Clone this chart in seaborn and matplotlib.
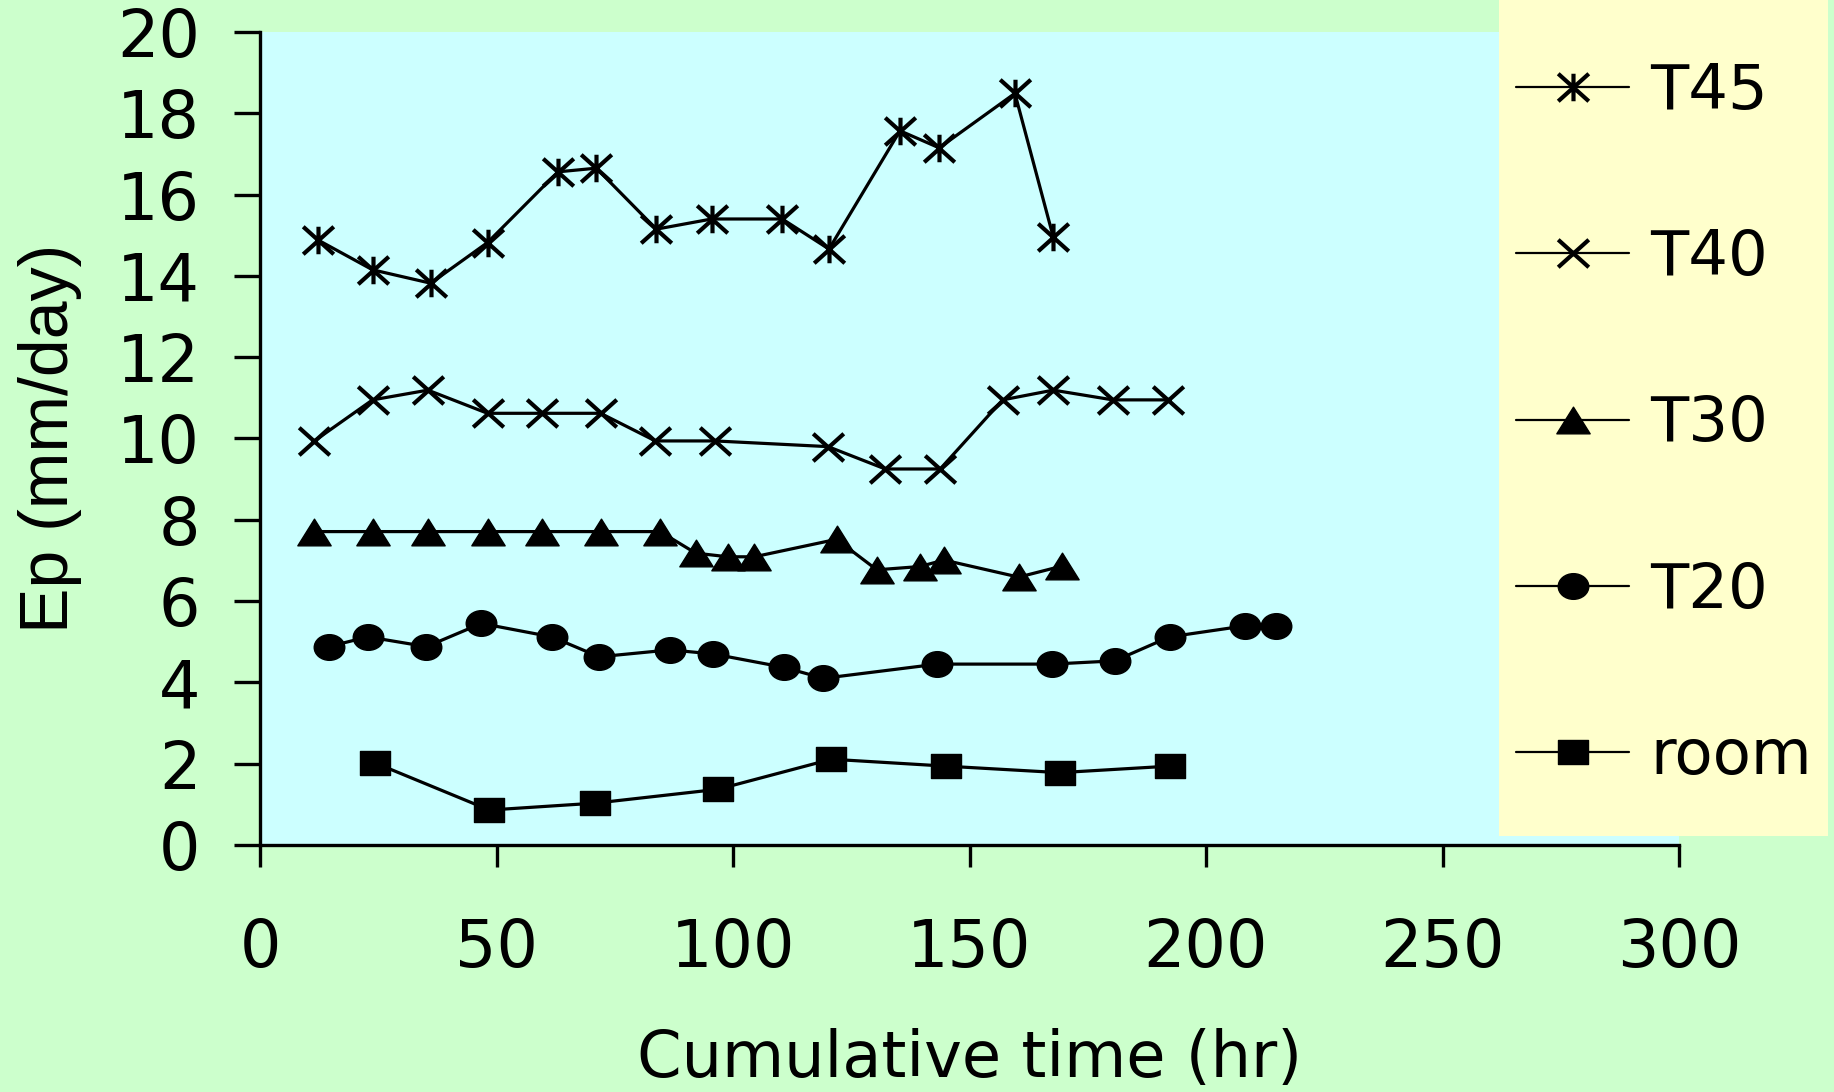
import numpy as np
import pandas as pd
import matplotlib
matplotlib.use("Agg")
import matplotlib.pyplot as plt
import seaborn as sns
from matplotlib.path import Path
from matplotlib.patches import Rectangle
from matplotlib.lines import Line2D

# values (x: cumulative time in hr, y: Ep in mm/day)
t45_x = [12.3, 23.8, 36.1, 48.1, 63.0, 71.1, 83.8, 95.5, 110.4, 120.3, 135.3, 143.6, 159.6, 167.7]
t45_y = [14.88, 14.15, 13.82, 14.82, 16.56, 16.65, 15.15, 15.40, 15.40, 14.66, 17.57, 17.15, 18.49, 14.96]

t40_x = [11.5, 23.8, 35.5, 48.1, 59.6, 72.0, 83.6, 96.2, 120.1, 132.2, 143.8, 157.0, 167.7, 180.3, 191.9]
t40_y = [9.94, 10.95, 11.19, 10.62, 10.62, 10.62, 9.94, 9.94, 9.80, 9.25, 9.25, 10.95, 11.19, 10.95, 10.95]

t30_x = [11.5, 23.8, 35.6, 48.1, 59.7, 72.1, 84.6, 92.1, 98.9, 104.5, 121.9, 130.4, 139.5, 144.6, 160.4, 169.5]
t30_y = [7.71, 7.71, 7.71, 7.71, 7.71, 7.71, 7.71, 7.18, 7.09, 7.09, 7.52, 6.77, 6.85, 7.01, 6.59, 6.86]

t20_x = [14.5, 22.8, 35.2, 46.8, 61.7, 71.7, 86.7, 95.8, 110.8, 119.1, 143.2, 167.4, 180.7, 192.3, 208.2, 214.7]
t20_y = [4.88, 5.12, 4.88, 5.45, 5.12, 4.63, 4.80, 4.70, 4.37, 4.10, 4.45, 4.45, 4.53, 5.12, 5.39, 5.39]

room_x = [24.3, 48.5, 70.9, 96.8, 120.8, 145.0, 169.1, 192.3]
room_y = [2.02, 0.86, 1.03, 1.37, 2.11, 1.94, 1.78, 1.94]

series_names = ["T45", "T40", "T30", "T20", "room"]
x_ticks = [0, 50, 100, 150, 200, 250, 300]
y_ticks = list(range(0, 21, 2))

# marker shapes (slightly wider than tall, like the original)
M, L, C = Path.MOVETO, Path.LINETO, Path.CLOSEPOLY
asterisk = Path([(-1, -0.9), (1, 0.9), (-1, 0.9), (1, -0.9), (0, -0.9), (0, 0.9)],
                [M, L, M, L, M, L])
cross = Path([(-1, -0.9), (1, 0.9), (-1, 0.9), (1, -0.9)], [M, L, M, L])
triangle = Path([(0, 0.8), (-1, -0.8), (1, -0.8), (0, 0.8)], [M, L, L, C])
circ = Path.unit_circle()
ellipse = Path(circ.vertices * np.array([1.0, 0.84]), circ.codes)
square = Path([(-1, -0.84), (1, -0.84), (1, 0.84), (-1, 0.84), (-1, -0.84)], [M, L, L, L, C])

styles = {
    "T45": dict(marker=asterisk, markersize=22, markeredgewidth=3.0, markerfacecolor="none"),
    "T40": dict(marker=cross, markersize=22, markeredgewidth=3.0, markerfacecolor="none"),
    "T30": dict(marker=triangle, markersize=24, markeredgewidth=1, markerfacecolor="black"),
    "T20": dict(marker=ellipse, markersize=22, markeredgewidth=1, markerfacecolor="black"),
    "room": dict(marker=square, markersize=21, markeredgewidth=1, markerfacecolor="black"),
}

frames = []
for name, xs, ys in zip(series_names,
                        [t45_x, t40_x, t30_x, t20_x, room_x],
                        [t45_y, t40_y, t30_y, t20_y, room_y]):
    frames.append(pd.DataFrame({"time": xs, "ep": ys, "series": name}))
df = pd.concat(frames, ignore_index=True)

sns.set_style("ticks")
plt.rcParams["font.family"] = ["DejaVu Sans"]
plt.rcParams["text.color"] = "black"
plt.rcParams["axes.labelcolor"] = "black"

W, H = 1834, 1092
fig = plt.figure(figsize=(W / 100, H / 100), dpi=100, facecolor="#CCFFCC")
ax = fig.add_axes([260 / W, 1 - 845 / H, (1679 - 260) / W, (845 - 32) / H])
ax.set_facecolor("#CCFFFF")

for name in series_names:
    sub = df[df["series"] == name]
    sns.lineplot(data=sub, x="time", y="ep", ax=ax, color="black", linewidth=2.3,
                 markeredgecolor="black", legend=False, sort=False, errorbar=None,
                 **styles[name])

ax.set_xlim(0, 300)
ax.set_ylim(0, 20)
ax.set_xticks(x_ticks)
ax.set_yticks(y_ticks)

for side in ["top", "right"]:
    ax.spines[side].set_visible(False)
for side in ["left", "bottom"]:
    ax.spines[side].set_linewidth(2.4)
    ax.spines[side].set_color("black")

ax.tick_params(axis="x", direction="out", length=16, width=2.4, pad=36,
               labelsize=47, colors="black")
ax.tick_params(axis="y", direction="out", length=19, width=2.4, pad=24,
               labelsize=47, colors="black")

ax.set_xlabel("Cumulative time (hr)", fontsize=46, family="DejaVu Sans", color="black")
ax.xaxis.set_label_coords(0.5, -0.225)
ax.set_ylabel("Ep (mm/day)", fontsize=49, family=["Liberation Sans", "DejaVu Sans"],
              color="black")
ax.yaxis.set_label_coords(-0.1254, 0.5)

# yellow legend panel on top of the plot area
fig.add_artist(Rectangle((1499 / W, 1 - 836 / H), (1828 - 1499) / W, 836 / H,
                         transform=fig.transFigure, facecolor="#FFFFCC",
                         edgecolor="none", zorder=1))

handles = [Line2D([], [], color="black", linewidth=1.6, markeredgecolor="black", **styles[n])
           for n in series_names]
fig.legend(handles, series_names, loc="center left",
           bbox_to_anchor=(1516 / W, 1 - 424.5 / H), frameon=False,
           prop={"family": "DejaVu Sans", "size": 45}, labelcolor="black",
           handlelength=1.81, handletextpad=0.34, labelspacing=1.70,
           borderpad=0, borderaxespad=0)

fig.savefig("out.png", dpi=100, facecolor=fig.get_facecolor())
